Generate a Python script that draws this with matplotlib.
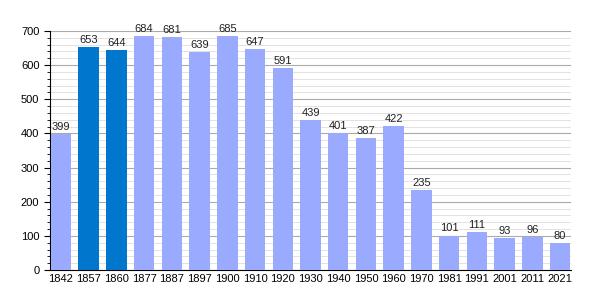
import matplotlib.pyplot as plt
from matplotlib.ticker import MultipleLocator

plt.rcParams["font.family"] = ["Liberation Sans", "DejaVu Sans"]

years = ["1842", "1857", "1860", "1877", "1887", "1897", "1900", "1910", "1920", "1930",
         "1940", "1950", "1960", "1970", "1981", "1991", "2001", "2011", "2021"]
population = [399, 653, 644, 684, 681, 639, 685, 647, 591, 439,
              401, 387, 422, 235, 101, 111, 93, 96, 80]
highlight = ["1857", "1860"]

light = "#99aaff"
dark = "#0077cc"
colors = [dark if y in highlight else light for y in years]

fig = plt.figure(figsize=(6, 3), dpi=100)
ax = fig.add_axes([0.083, 0.1, 0.869, 0.797])

x = range(len(years))
bars = ax.bar(x, population, width=0.74, color=colors, zorder=3)
for b, v in zip(bars, population):
    ax.text(b.get_x() + b.get_width() / 2, v + 6, str(v), ha="center", va="bottom",
            fontsize=8, color="#222222", zorder=4)

ax.set_xlim(-0.4, len(years) - 0.6)
ax.set_ylim(0, 700)
ax.set_xticks(list(x))
ax.set_xticklabels(years, fontsize=8)
ax.yaxis.set_major_locator(MultipleLocator(100))
ax.yaxis.set_minor_locator(MultipleLocator(20))
ax.tick_params(axis="y", labelsize=8, length=4)
ax.tick_params(axis="y", which="minor", length=2)
ax.tick_params(axis="x", length=0, pad=3)
ax.grid(axis="y", which="major", color="#aaaaaa", linewidth=0.8, zorder=0)
ax.grid(axis="y", which="minor", color="#dddddd", linewidth=0.6, zorder=0)

for s in ["top", "right"]:
    ax.spines[s].set_visible(False)
ax.spines["left"].set_color("black")
ax.spines["bottom"].set_color("black")

fig.savefig("out.png", dpi=100)
